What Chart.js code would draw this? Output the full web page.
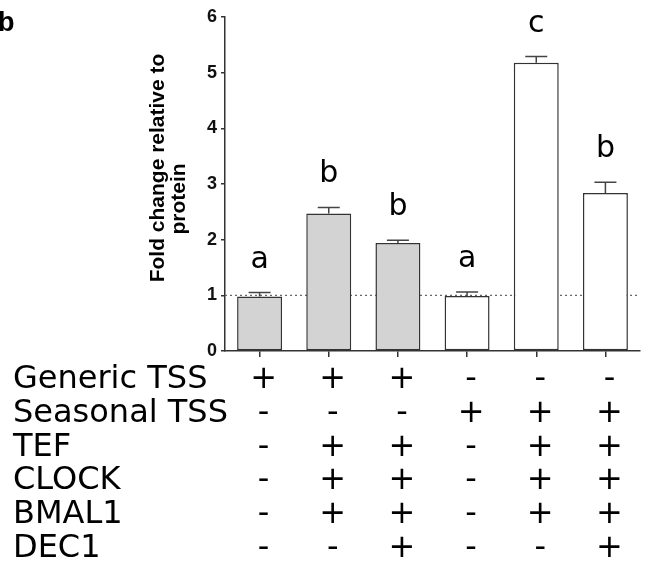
<!DOCTYPE html>
<html>
<head>
<meta charset="utf-8">
<script src="https://cdn.jsdelivr.net/npm/chart.js@4/dist/chart.umd.min.js"></script>
<style>
  html, body { margin: 0; padding: 0; background: #fff; }
  canvas { display: block; }
</style>
</head>
<body>
<canvas id="myChart" width="648" height="571"></canvas>
<script>
// values
const groups = ['1', '2', '3', '4', '5', '6'];
const foldChange = [0.98, 2.47, 1.94, 0.99, 5.18, 2.84];
const errUp = [0.07, 0.11, 0.05, 0.07, 0.11, 0.19];
const barColors = ['#d3d3d3', '#d3d3d3', '#d3d3d3', '#ffffff', '#ffffff', '#ffffff'];
const sigLetters = ['a', 'b', 'b', 'a', 'c', 'b'];
const yTicks = [0, 1, 2, 3, 4, 5, 6];
const refLevel = 1;

// treatment table under the bars
const rowLabels = ['Generic TSS', 'Seasonal TSS', 'TEF', 'CLOCK', 'BMAL1', 'DEC1'];
const genericTSS = ['+', '+', '+', '-', '-', '-'];
const seasonalTSS = ['-', '-', '-', '+', '+', '+'];
const tef = ['-', '+', '+', '-', '+', '+'];
const clock = ['-', '+', '+', '-', '+', '+'];
const bmal1 = ['-', '+', '+', '-', '+', '+'];
const dec1 = ['-', '-', '+', '-', '-', '+'];
const tableRows = [genericTSS, seasonalTSS, tef, clock, bmal1, dec1];

const sansBold = "Liberation Sans";
const tableFont = "'DejaVu Sans', Verdana, sans-serif";

const extras = {
  id: 'extras',
  beforeDatasetsDraw(chart) {
    const { ctx, chartArea, scales } = chart;
    const y = scales.y.getPixelForValue(refLevel);
    ctx.save();
    ctx.strokeStyle = '#666';
    ctx.lineWidth = 1.3;
    ctx.setLineDash([2, 3]);
    ctx.beginPath();
    ctx.moveTo(chartArea.left, y);
    ctx.lineTo(chartArea.right, y);
    ctx.stroke();
    ctx.restore();
  },
  afterDatasetsDraw(chart) {
    const { ctx, scales } = chart;
    const bars = chart.getDatasetMeta(0).data;
    ctx.save();
    ctx.strokeStyle = '#444';
    ctx.lineWidth = 1.5;
    bars.forEach((bar, i) => {
      const yTop = scales.y.getPixelForValue(foldChange[i]);
      const yErr = scales.y.getPixelForValue(foldChange[i] + errUp[i]);
      ctx.beginPath();
      ctx.moveTo(bar.x, yTop);
      ctx.lineTo(bar.x, yErr);
      ctx.moveTo(bar.x - 11, yErr);
      ctx.lineTo(bar.x + 11, yErr);
      ctx.stroke();
    });
    ctx.restore();
  },
  afterDraw(chart) {
    const { ctx, scales } = chart;
    const bars = chart.getDatasetMeta(0).data;
    ctx.save();
    ctx.fillStyle = '#000';

    // panel letter
    ctx.font = 'bold 27px ' + sansBold;
    ctx.textAlign = 'left';
    ctx.textBaseline = 'alphabetic';
    ctx.fillText('b', -2, 31);

    // significance letters
    ctx.font = '30px ' + tableFont;
    ctx.textAlign = 'center';
    bars.forEach((bar, i) => {
      const yErr = scales.y.getPixelForValue(foldChange[i] + errUp[i]);
      ctx.fillText(sigLetters[i], bar.x, yErr - 25);
    });

    // y axis title, two lines
    ctx.font = 'bold 21px ' + sansBold;
    ctx.textBaseline = 'middle';
    ctx.save();
    ctx.translate(158, 168);
    ctx.rotate(-Math.PI / 2);
    ctx.fillText('Fold change relative to', 0, 0);
    ctx.restore();
    ctx.save();
    ctx.translate(179, 199);
    ctx.rotate(-Math.PI / 2);
    ctx.fillText('protein', 0, 0);
    ctx.restore();

    // treatment table
    ctx.font = '32px ' + tableFont;
    ctx.textBaseline = 'alphabetic';
    rowLabels.forEach((label, r) => {
      const base = 388 + r * 33.8;
      ctx.textAlign = 'left';
      ctx.fillText(label, 13, base);
      ctx.textAlign = 'center';
      tableRows[r].forEach((sign, i) => {
        ctx.fillText(sign, bars[i].x + 4, base);
      });
    });
    ctx.restore();
  }
};

const ctx = document.getElementById('myChart');
const myChart = new Chart(ctx, {
  type: 'bar',
  data: {
    labels: groups,
    datasets: [{
      data: foldChange,
      backgroundColor: barColors,
      borderColor: '#333',
      borderWidth: 1.5,
      borderSkipped: false,
      barPercentage: 0.65,
      categoryPercentage: 1.0
    }]
  },
  options: {
    responsive: false,
    animation: false,
    layout: { padding: { top: 17, right: 8, left: 0, bottom: 0 } },
    plugins: {
      legend: { display: false },
      tooltip: { enabled: false }
    },
    scales: {
      x: {
        offset: true,
        grid: { display: true, drawOnChartArea: false, offset: false, drawTicks: true, tickLength: 6, color: '#333', lineWidth: 1.5 },
        border: { display: true, color: '#333', width: 1.5 },
        ticks: { display: false },
        afterFit(scale) { scale.height = 220; }
      },
      y: {
        min: 0,
        max: 6,
        afterBuildTicks(scale) { scale.ticks = yTicks.map(v => ({ value: v })); },
        grid: { display: true, drawOnChartArea: false, drawTicks: true, tickLength: 4, color: '#333', lineWidth: 1.5 },
        border: { display: true, color: '#333', width: 1.5 },
        ticks: {
          color: '#111',
          padding: 4,
          font: () => ({ family: sansBold, size: 18, weight: 'bold' })
        },
        afterFit(scale) { scale.width = 225; }
      }
    }
  },
  plugins: [extras]
});
</script>
</body>
</html>
